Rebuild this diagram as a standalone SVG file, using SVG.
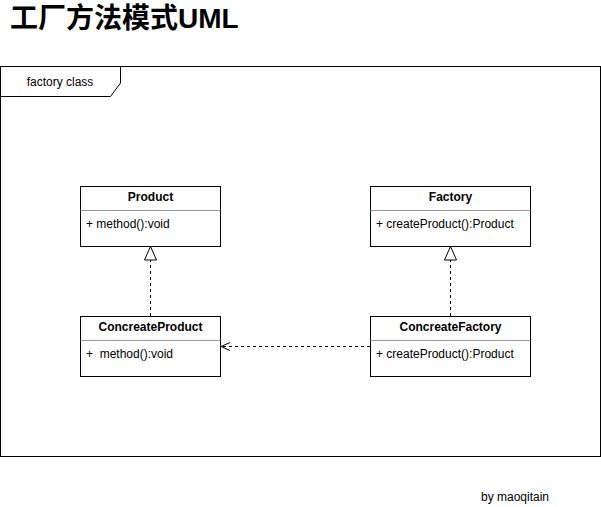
<svg xmlns="http://www.w3.org/2000/svg" width="601" height="507" viewBox="0 0 601 507">
<style>
text{font-family:"Liberation Sans",Arial,sans-serif;fill:#000}
.box{fill:#fff;stroke:#000;stroke-width:1}
.div{stroke:#999;stroke-width:1}
.hd{font-size:12px;font-weight:bold;text-anchor:middle}
.at{font-size:12px}
.dash{fill:none;stroke:#000;stroke-width:1;stroke-dasharray:3 3}
</style>
<defs>
<marker id="tri" markerWidth="16" markerHeight="16" refX="14" refY="7" orient="auto" markerUnits="userSpaceOnUse">
<path d="M0.5,1 L14,7 L0.5,13 Z" fill="#fff" stroke="#000" stroke-width="1"/>
</marker>
<marker id="open" markerWidth="12" markerHeight="12" refX="10" refY="5" orient="auto" markerUnits="userSpaceOnUse">
<path d="M1,1 L10,5 L1,9" fill="none" stroke="#000" stroke-width="1"/>
</marker>
</defs>
<rect width="601" height="507" fill="#fff"/>
<text x="10" y="28" style="font-family:'Liberation Sans','Noto Sans CJK SC',sans-serif;font-size:28px;font-weight:bold">工厂方法模式UML</text>
<g id="frame">
<rect x="0.5" y="66.5" width="600" height="390" fill="none" stroke="#000"/>
<path d="M0.5,96.5 L110.5,96.5 L120.5,83 L120.5,66.5" fill="none" stroke="#000"/>
<text x="60" y="86" text-anchor="middle" style="font-size:12px">factory class</text>
</g>
<g id="connectors">
<line class="dash" x1="150.5" y1="316" x2="150.5" y2="246.5" marker-end="url(#tri)"/>
<line class="dash" x1="450.5" y1="316" x2="450.5" y2="246.5" marker-end="url(#tri)"/>
<line class="dash" x1="370" y1="346.5" x2="221" y2="346.5" marker-end="url(#open)"/>
</g>
<g id="Product">
<rect class="box" x="80.5" y="186.5" width="140" height="60"/>
<line class="div" x1="80.5" y1="210.5" x2="220.5" y2="210.5"/>
<text class="hd" x="150.5" y="201">Product</text>
<text class="at" x="86" y="228">+ method():void</text>
</g>
<g id="ConcreateProduct">
<rect class="box" x="80.5" y="316.5" width="140" height="60"/>
<line class="div" x1="80.5" y1="340.5" x2="220.5" y2="340.5"/>
<text class="hd" x="150.5" y="331">ConcreateProduct</text>
<text class="at" x="86" y="358" xml:space="preserve">+  method():void</text>
</g>
<g id="Factory">
<rect class="box" x="370.5" y="186.5" width="160" height="60"/>
<line class="div" x1="370.5" y1="210.5" x2="530.5" y2="210.5"/>
<text class="hd" x="450.5" y="201">Factory</text>
<text class="at" x="376" y="228">+ createProduct():Product</text>
</g>
<g id="ConcreateFactory">
<rect class="box" x="370.5" y="316.5" width="160" height="60"/>
<line class="div" x1="370.5" y1="340.5" x2="530.5" y2="340.5"/>
<text class="hd" x="450.5" y="331">ConcreateFactory</text>
<text class="at" x="376" y="358">+ createProduct():Product</text>
</g>
<text x="481" y="501" style="font-size:12px">by maoqitain</text>
</svg>
